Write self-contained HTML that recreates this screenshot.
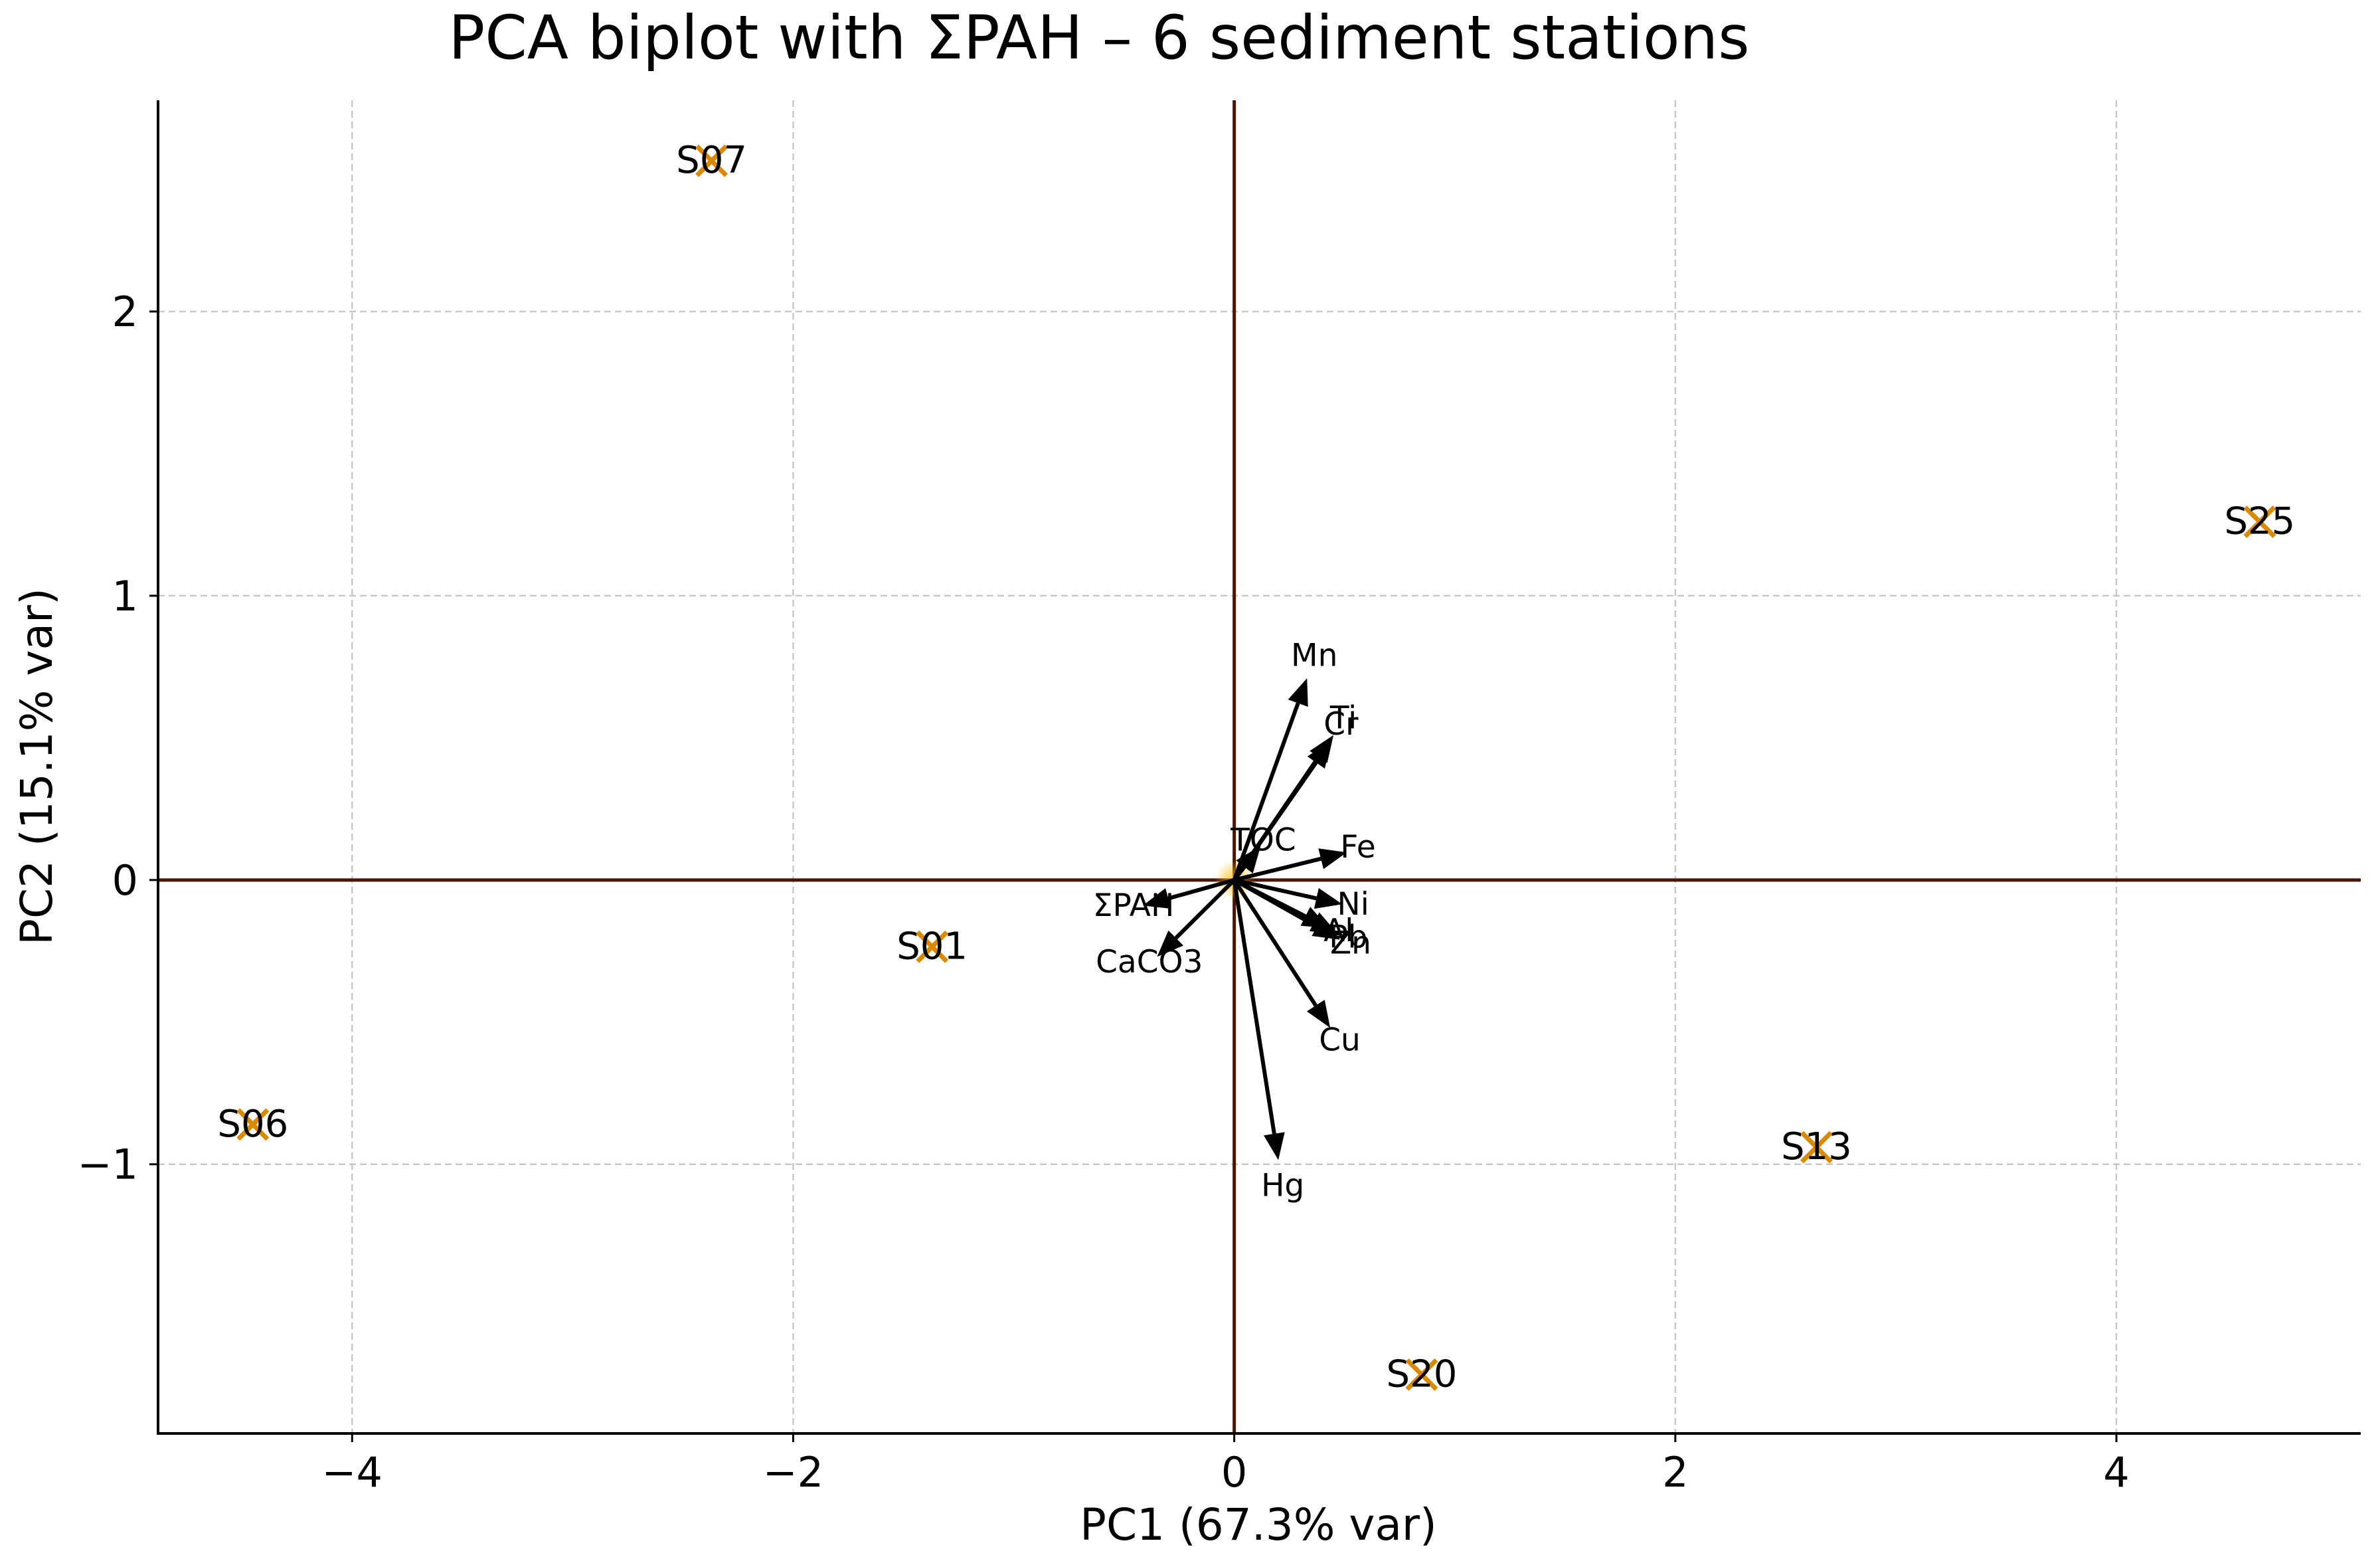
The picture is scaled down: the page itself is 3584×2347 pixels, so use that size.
<!DOCTYPE html>
<html><head><meta charset="utf-8"><style>
html,body{margin:0;padding:0;background:#fff;}
svg{display:block;font-family:"DejaVu Sans","Liberation Sans",sans-serif;}
</style></head><body>
<svg id="chart" width="3584" height="2347" viewBox="0 0 3584 2347" xmlns="http://www.w3.org/2000/svg">
<defs>
<radialGradient id="glow"><stop offset="0" stop-color="#f5b800" stop-opacity="0.8"/><stop offset="1" stop-color="#f5b800" stop-opacity="0"/></radialGradient>
</defs>
<text x="1655" y="88" font-size="91" text-anchor="middle" fill="#000">PCA biplot with ΣPAH – 6 sediment stations</text>
<text x="1895" y="2318" font-size="66" text-anchor="middle" fill="#000">PC1 (67.3% var)</text>
<text x="0" y="0" font-size="66" text-anchor="middle" fill="#000" transform="translate(78,1154) rotate(-90)">PC2 (15.1% var)</text>
<g id="grid"></g>
<g id="zero"></g>
<g id="arrows"></g>
<g id="points"></g>
<g id="axes"></g>
</svg>
<script>
const stationNames = ["S07","S25","S01","S06","S13","S20"];
const stationPC1 = [-2.37, 4.65, -1.37, -4.45, 2.64, 0.85];
const stationPC2 = [2.53, 1.26, -0.235, -0.86, -0.94, -1.74];
const varNames = ["Mn","Ti","Cr","TOC","Fe","Ni","Al","Pb","Zn","Cu","Hg","ΣPAH","CaCO3"];
const varPC1 = [0.33, 0.45, 0.44, 0.12, 0.51, 0.49, 0.43, 0.47, 0.48, 0.435, 0.20, -0.415, -0.35];
const varPC2 = [0.71, 0.51, 0.49, 0.12, 0.097, -0.085, -0.17, -0.19, -0.21, -0.52, -0.985, -0.09, -0.27];
const xTicks = [-4, -2, 0, 2, 4];
const yTicks = [-1, 0, 1, 2];

const L=238,R=3555,T=151,B=2158;
const xMin=-4.88,xMax=5.108,yMin=-1.947,yMax=2.743;
const sx=v=>L+(v-xMin)/(xMax-xMin)*(R-L);
const sy=v=>B-(v-yMin)/(yMax-yMin)*(B-T);
const NS="http://www.w3.org/2000/svg";
function mk(tag,attrs,parent){const e=document.createElementNS(NS,tag);for(const k in attrs)e.setAttribute(k,attrs[k]);parent.appendChild(e);return e;}
const g=id=>document.getElementById(id);
const fmt=v=>v<0?"−"+Math.abs(v):String(v);

xTicks.forEach(t=>{
  const l=mk('line',{x1:sx(t),x2:sx(t),y1:T,y2:B,stroke:'#c8c8c8','stroke-width':2.5,'stroke-dasharray':'10 6'},g('grid'));
  
  
  const tk=mk('line',{x1:sx(t),x2:sx(t),y1:B,y2:B+13,stroke:'#000','stroke-width':3},g('axes'));
  
  
  const tx=mk('text',{x:sx(t),y:B+80,'font-size':62,'text-anchor':'middle',fill:'#000'},g('axes'));
  tx.textContent=fmt(t);
  
  
});
yTicks.forEach(t=>{
  const l=mk('line',{x1:L,x2:R,y1:sy(t),y2:sy(t),stroke:'#c8c8c8','stroke-width':2.5,'stroke-dasharray':'10 6'},g('grid'));
  
  
  const tk=mk('line',{x1:L-13,x2:L,y1:sy(t),y2:sy(t),stroke:'#000','stroke-width':3},g('axes'));
  
  
  const tx=mk('text',{x:L-30,y:sy(t)+22,'font-size':62,'text-anchor':'end',fill:'#000'},g('axes'));
  tx.textContent=fmt(t);
  
  
});
const hz=mk('line',{x1:L,x2:R,y1:sy(0),y2:sy(0),stroke:'#4a1505','stroke-width':5},g('zero'));


const vz=mk('line',{x1:sx(0),x2:sx(0),y1:T,y2:B,stroke:'#4a1505','stroke-width':5},g('zero'));


const gl=mk('circle',{cx:sx(0),cy:sy(0),r:30,fill:'url(#glow)'},g('zero'));



const ax=mk('path',{d:`M${L},${T} V${B} H${R}`,fill:'none',stroke:'#000','stroke-width':4},g('axes'));



const ox=sx(0),oy=sy(0);
varNames.forEach((n,i)=>{
  const x=sx(varPC1[i]),y=sy(varPC2[i]);
  const dx=x-ox,dy=y-oy,len=Math.hypot(dx,dy),ux=dx/len,uy=dy/len;
  const hl=40,hw=16;
  const bx=x-ux*hl,by=y-uy*hl;
  const grp=mk('g',{},g('arrows'));
  
  
  mk('line',{x1:ox,y1:oy,x2:bx,y2:by,stroke:'#000','stroke-width':6},grp);
  mk('polygon',{points:`${x},${y} ${bx-uy*hw},${by+ux*hw} ${bx+uy*hw},${by-ux*hw}`,fill:'#000'},grp);
  const t=mk('text',{x:sx(varPC1[i]*1.1),y:sy(varPC2[i]*1.1)+12,'font-size':47,'text-anchor':'middle',fill:'#000'},grp);
  t.textContent=n;
});

stationNames.forEach((n,i)=>{
  const x=sx(stationPC1[i]),y=sy(stationPC2[i]);
  const grp=mk('g',{},g('points'));
  
  
  const s=22;
  mk('path',{d:`M${x-s},${y-s}L${x+s},${y+s}M${x-s},${y+s}L${x+s},${y-s}`,stroke:'#d98a00','stroke-width':7},grp);
  const t=mk('text',{x:x,y:y+18,'font-size':56,'text-anchor':'middle',fill:'#000'},grp);
  t.textContent=n;
});
</script>
</body></html>
